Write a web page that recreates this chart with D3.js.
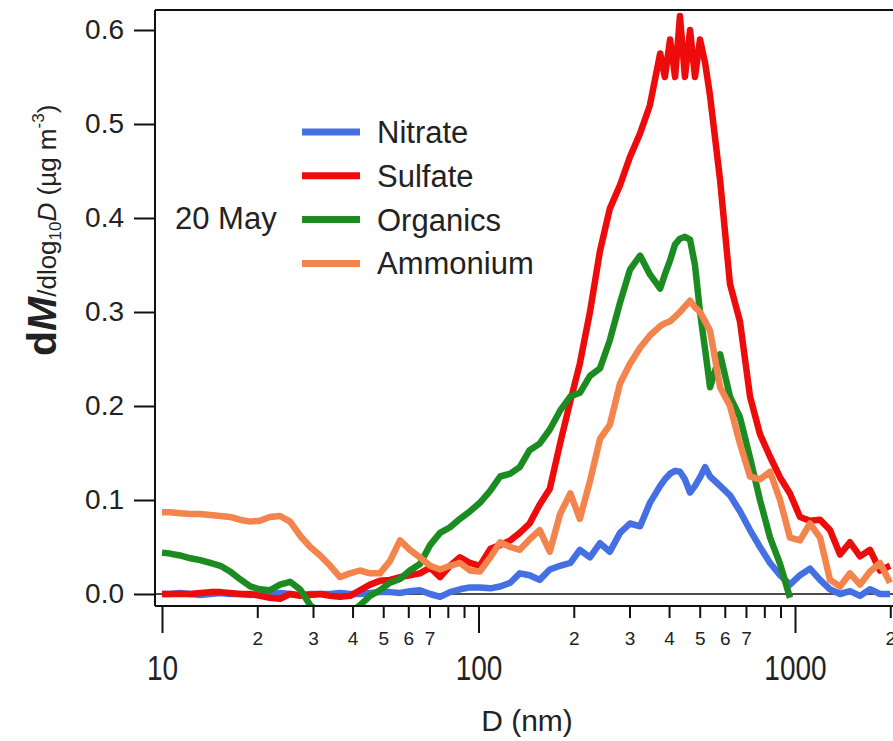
<!DOCTYPE html>
<html lang="en">
<head>
<meta charset="UTF-8" />
<title>Mass size distribution, 20 May</title>
<script src="https://d3js.org/d3.v7.min.js"></script>
<style>
  body { margin: 0; background: #fff; }
  svg text { font-family: "Liberation Sans", Arial, sans-serif; fill: #222; }
</style>
</head>
<body>
<div id="viz"></div>
<script>
// particle diameter grid (nm), shared by all four species
// (denser around the sulfate peak, where the trace is noisiest)
const diameters = [
  10, 10.6, 11.4, 12.3, 13.2, 14.2, 15.3, 16.4, 17.6, 19.0,
  20.4, 21.9, 23.6, 25.4, 27.3, 29.4, 31.6, 34.0, 36.5, 39.3,
  42.2, 45.4, 48.8, 52.5, 56.5, 60.7, 65.3, 70.3, 75.6, 81.3,
  87.4, 94.0, 101, 109, 117, 126, 135, 145, 156, 168,
  181, 195, 209, 225, 242, 260, 280, 301, 324, 348,
  375, 388, 403, 418, 433, 449, 466, 483, 501, 520, 539, 580, 623, 670, 721,
  775, 834, 897, 964, 1037, 1115, 1200, 1290, 1388, 1492,
  1605, 1726, 1856, 1996
];

// dM/dlog10D (ug m-3)
const nitrate = [
  0.0, 0.0, 0.001, 0.0, -0.001, 0.0, 0.001, 0.0, 0.0, -0.001,
  0.0, 0.0, 0.001, 0.0, -0.001, 0.0, 0.0, 0.0, 0.001, 0.0,
  0.0, 0.001, 0.002, 0.002, 0.001, 0.003, 0.004, 0.0, -0.003, 0.002,
  0.005, 0.007, 0.007, 0.006, 0.008, 0.012, 0.022, 0.020, 0.015, 0.026,
  0.030, 0.033, 0.047, 0.039, 0.054, 0.045, 0.065, 0.075, 0.072, 0.097,
  0.115, 0.122, 0.128, 0.131, 0.130, 0.122, 0.108, 0.115, 0.124, 0.135, 0.125, 0.115, 0.105, 0.088, 0.068,
  0.050, 0.033, 0.020, 0.010, 0.020, 0.027, 0.015, 0.005, 0.0, 0.003,
  -0.002, 0.005, 0.0, 0.0
];
const sulfate = [
  0.0, 0.0, 0.0, 0.0, 0.001, 0.002, 0.002, 0.001, 0.0, 0.0,
  -0.002, -0.004, -0.005, 0.0, -0.002, -0.001, 0.0, -0.002, -0.003, -0.002,
  0.004, 0.010, 0.014, 0.015, 0.018, 0.020, 0.022, 0.028, 0.018, 0.030,
  0.039, 0.033, 0.030, 0.048, 0.052, 0.057, 0.065, 0.075, 0.095, 0.112,
  0.160, 0.205, 0.245, 0.300, 0.365, 0.410, 0.435, 0.465, 0.490, 0.520,
  0.575, 0.550, 0.590, 0.550, 0.615, 0.550, 0.600, 0.550, 0.590, 0.565, 0.530, 0.440, 0.330, 0.290, 0.210,
  0.170, 0.146, 0.124, 0.107, 0.082, 0.078, 0.079, 0.068, 0.042, 0.055,
  0.040, 0.047, 0.025, 0.030
];
const organics = [
  0.044, 0.043, 0.041, 0.038, 0.036, 0.033, 0.030, 0.024, 0.016, 0.008,
  0.005, 0.004, 0.010, 0.013, 0.005, -0.012, -0.020, -0.022, -0.022, -0.020,
  -0.012, -0.002, 0.004, 0.012, 0.016, 0.025, 0.032, 0.052, 0.065, 0.071,
  0.080, 0.088, 0.097, 0.110, 0.125, 0.128, 0.135, 0.153, 0.160, 0.175,
  0.195, 0.210, 0.214, 0.232, 0.240, 0.270, 0.310, 0.345, 0.360, 0.340,
  0.325, 0.340, 0.355, 0.372, 0.378, 0.380, 0.377, 0.350, 0.300, 0.260, 0.220, 0.255, 0.210, 0.188, 0.145,
  0.100, 0.060, 0.032, -0.004, null, null, null, null, null, null,
  null, null, null, null
];
const ammonium = [
  0.087, 0.087, 0.086, 0.085, 0.085, 0.084, 0.083, 0.082, 0.079, 0.077,
  0.078, 0.082, 0.083, 0.077, 0.062, 0.050, 0.041, 0.030, 0.018, 0.022,
  0.025, 0.022, 0.022, 0.035, 0.057, 0.047, 0.039, 0.030, 0.026, 0.030,
  0.033, 0.025, 0.024, 0.039, 0.055, 0.050, 0.047, 0.058, 0.068, 0.045,
  0.085, 0.107, 0.080, 0.120, 0.165, 0.180, 0.224, 0.245, 0.262, 0.275,
  0.285, 0.288, 0.290, 0.295, 0.300, 0.306, 0.312, 0.305, 0.300, 0.290, 0.280, 0.220, 0.200, 0.160, 0.125,
  0.122, 0.130, 0.100, 0.060, 0.057, 0.075, 0.060, 0.015, 0.008, 0.022,
  0.010, 0.024, 0.033, 0.012
];

const seriesNames = ["Nitrate", "Sulfate", "Organics", "Ammonium"];
const seriesValues = [nitrate, sulfate, organics, ammonium];
const seriesColors = ["#4470e4", "#ee0b0b", "#1c8c22", "#f3844e"];

const yTicks = [0, 0.1, 0.2, 0.3, 0.4, 0.5, 0.6];
const xMajorTicks = [10, 100, 1000];
const xMinorTicks = [20, 30, 40, 50, 60, 70, 80, 90, 200, 300, 400, 500, 600, 700, 800, 900, 2000];

const width = 893, height = 741;
const plot = { left: 155, top: 10, bottom: 606, right: 893 };

const x = d3.scaleLog().domain([10, 1000]).range([162, 795]);
const y = d3.scaleLinear().domain([0, 0.6]).range([594, 30]);

const svg = d3.select("#viz").append("svg")
  .attr("width", width).attr("height", height)
  .style("background", "#fff");

svg.append("defs").append("clipPath").attr("id", "plotClip")
  .append("rect")
  .attr("x", plot.left).attr("y", plot.top)
  .attr("width", plot.right - plot.left).attr("height", plot.bottom - plot.top);

// zero line
svg.append("line")
  .attr("x1", plot.left).attr("x2", plot.right)
  .attr("y1", y(0)).attr("y2", y(0))
  .attr("stroke", "#111").attr("stroke-width", 1.5);

// traces
const series = seriesNames.map((name, k) => ({
  name: name,
  color: seriesColors[k],
  points: diameters.map((D, i) => [D, seriesValues[k][i]])
}));

const line = d3.line()
  .defined(d => d[1] !== null)
  .x(d => x(d[0]))
  .y(d => y(d[1]));

svg.append("g").attr("clip-path", "url(#plotClip)")
  .selectAll("path")
  .data(series)
  .join("path")
  .attr("d", s => line(s.points))
  .attr("fill", "none")
  .attr("stroke", s => s.color)
  .attr("stroke-width", 6.5)
  .attr("stroke-linejoin", "round");

// frame lines
svg.append("line").attr("x1", plot.left).attr("x2", plot.right)
  .attr("y1", plot.top).attr("y2", plot.top)
  .attr("stroke", "#111").attr("stroke-width", 2);
svg.append("line").attr("x1", plot.left).attr("x2", plot.left)
  .attr("y1", plot.top).attr("y2", plot.bottom)
  .attr("stroke", "#111").attr("stroke-width", 2);
svg.append("line").attr("x1", plot.left).attr("x2", plot.right)
  .attr("y1", plot.bottom).attr("y2", plot.bottom)
  .attr("stroke", "#111").attr("stroke-width", 2);

// y axis
const yAxis = svg.append("g")
  .attr("transform", `translate(${plot.left},0)`)
  .call(d3.axisLeft(y).tickValues(yTicks).tickFormat(d3.format(".1f")).tickSize(21).tickPadding(10));
yAxis.select(".domain").remove();
yAxis.selectAll(".tick line").attr("stroke", "#111").attr("stroke-width", 2);
yAxis.selectAll(".tick text").style("font-size", "28px");

// x axis, minor ticks with single-digit labels
const minorLabel = d => {
  const m = Math.round(d / Math.pow(10, Math.floor(Math.log10(d) + 1e-9)));
  return m <= 7 ? String(m) : "";
};
const xMinor = svg.append("g")
  .attr("transform", `translate(0,${plot.bottom})`)
  .call(d3.axisBottom(x).tickValues(xMinorTicks).tickFormat(minorLabel).tickSize(12).tickPadding(14));
xMinor.select(".domain").remove();
xMinor.selectAll(".tick line").attr("stroke", "#111").attr("stroke-width", 2);
xMinor.selectAll(".tick text").style("font-size", "19px");

// x axis, decades (labels drawn condensed like the original)
const xMajor = svg.append("g")
  .attr("transform", `translate(0,${plot.bottom})`)
  .call(d3.axisBottom(x).tickValues(xMajorTicks).tickFormat(d3.format("d")).tickSize(27).tickPadding(22));
xMajor.select(".domain").remove();
xMajor.selectAll(".tick line").attr("stroke", "#111").attr("stroke-width", 2);
xMajor.selectAll(".tick text")
  .style("font-size", "35px")
  .attr("transform", "scale(0.8,1)");

// axis titles
svg.append("text")
  .attr("x", 527).attr("y", 731)
  .attr("text-anchor", "middle")
  .style("font-size", "30px")
  .text("D (nm)");

const yTitle = svg.append("text")
  .attr("transform", "translate(56,356) rotate(-90)");
yTitle.append("tspan").style("font-size", "41px").style("font-weight", "bold").text("d");
yTitle.append("tspan").style("font-size", "41px").style("font-weight", "bold").style("font-style", "italic").text("M");
yTitle.append("tspan").style("font-size", "26px").text("/dlog");
yTitle.append("tspan").style("font-size", "17px").attr("dy", 5).text("10");
yTitle.append("tspan").style("font-size", "26px").style("font-style", "italic").attr("dy", -5).text("D");
yTitle.append("tspan").style("font-size", "26px").text(" (\u00b5g m");
yTitle.append("tspan").style("font-size", "17px").attr("dy", -12).text("-3");
yTitle.append("tspan").style("font-size", "26px").attr("dy", 12).text(")");

// date annotation
svg.append("text")
  .attr("x", 175).attr("y", 229)
  .style("font-size", "31px")
  .text("20 May");

// legend
const legend = svg.append("g").attr("transform", "translate(302,132)");
const rows = legend.selectAll("g")
  .data(series)
  .join("g")
  .attr("transform", (d, i) => `translate(0,${i * 43.8})`);
rows.append("line")
  .attr("x1", 0).attr("x2", 58)
  .attr("y1", 0).attr("y2", 0)
  .attr("stroke", d => d.color)
  .attr("stroke-width", 7);
rows.append("text")
  .attr("x", 75).attr("y", 11)
  .style("font-size", "31px")
  .text(d => d.name);
</script>
</body>
</html>
